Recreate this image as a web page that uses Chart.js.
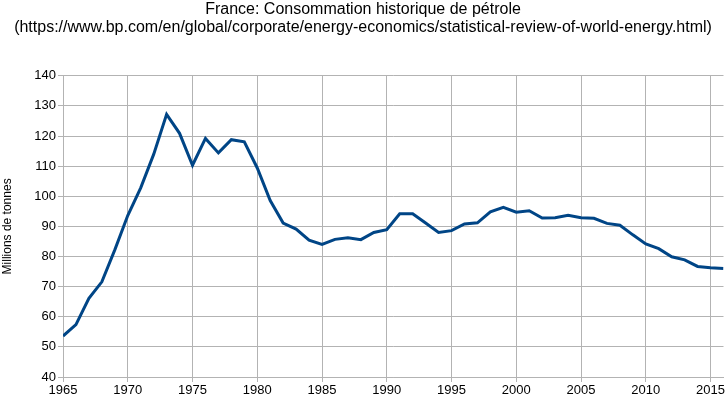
<!DOCTYPE html>
<html>
<head>
<meta charset="utf-8">
<script src="https://cdn.jsdelivr.net/npm/chart.js@4.4.1/dist/chart.umd.min.js"></script>
<style>
html,body{margin:0;padding:0;background:#fff;}
#wrap{width:726px;height:399px;position:relative;}
</style>
</head>
<body>
<div id="wrap"><canvas id="c" width="726" height="399"></canvas></div>
<script>
const years = [1965,1966,1967,1968,1969,1970,1971,1972,1973,1974,1975,1976,1977,1978,1979,1980,1981,1982,1983,1984,1985,1986,1987,1988,1989,1990,1991,1992,1993,1994,1995,1996,1997,1998,1999,2000,2001,2002,2003,2004,2005,2006,2007,2008,2009,2010,2011,2012,2013,2014,2015,2016];
const consumption = [53.6,57.4,66.1,71.6,82.2,93.6,102.8,113.9,127.2,120.9,110.3,119.2,114.4,118.8,118.1,109.4,98.6,91.1,89.1,85.4,84.0,85.7,86.2,85.6,88.0,88.9,94.2,94.2,91.1,88.0,88.6,90.8,91.2,94.8,96.3,94.7,95.2,92.8,92.9,93.7,92.9,92.7,91.0,90.4,87.2,84.2,82.6,79.9,78.9,76.7,76.3,76.0];
const xTickYears = [1965,1970,1975,1980,1985,1990,1995,2000,2005,2010,2015];
const titleLines = ["France: Consommation historique de pétrole","(https://www.bp.com/en/global/corporate/energy-economics/statistical-review-of-world-energy.html)"];
const yTitle = "Millions de tonnes";

const pts = years.map((y,i)=>({x:y,y:consumption[i]}));
const font = "'Liberation Sans', Arial, sans-serif";
const grid = '#b3b3b3';

new Chart(document.getElementById('c'), {
  type: 'line',
  data: { datasets: [{ data: pts, borderColor: '#004586', borderWidth: 3, pointRadius: 0, tension: 0, fill: false }] },
  options: {
    responsive: false,
    animation: false,
    devicePixelRatio: 1,
    layout: { padding: { left: 0, right: 0, top: 0, bottom: 0 } },
    plugins: {
      legend: { display: false },
      tooltip: { enabled: false },
      title: {
        display: true,
        text: titleLines,
        color: '#000',
        font: { family: font, size: 16, weight: 'normal', lineHeight: 1.15 },
        padding: { top: 0, bottom: 39 }
      }
    },
    scales: {
      x: {
        type: 'linear',
        min: 1965, max: 2016,
        ticks: { autoSkip: false, color: '#000', font: { family: font, size: 13 }, maxRotation: 0, padding: 1,
          callback: v => String(v) },
        afterBuildTicks: s => { s.ticks = xTickYears.map(v => ({ value: v })); },
        afterFit: s => { s.height = 22; },
        grid: { color: grid, lineWidth: 1, tickLength: 5, drawTicks: true },
        border: { color: grid }
      },
      y: {
        min: 40, max: 140,
        afterFit: s => { s.width = 63; },
        ticks: { stepSize: 10, color: '#000', font: { family: font, size: 13 }, padding: 2 },
        grid: { color: grid, lineWidth: 1, tickLength: 5 },
        border: { color: grid },
        title: { display: true, text: yTitle, color: '#000', font: { family: font, size: 12 }, padding: { top: 0, bottom: 8 } }
      }
    }
  }
});
</script>
</body>
</html>
